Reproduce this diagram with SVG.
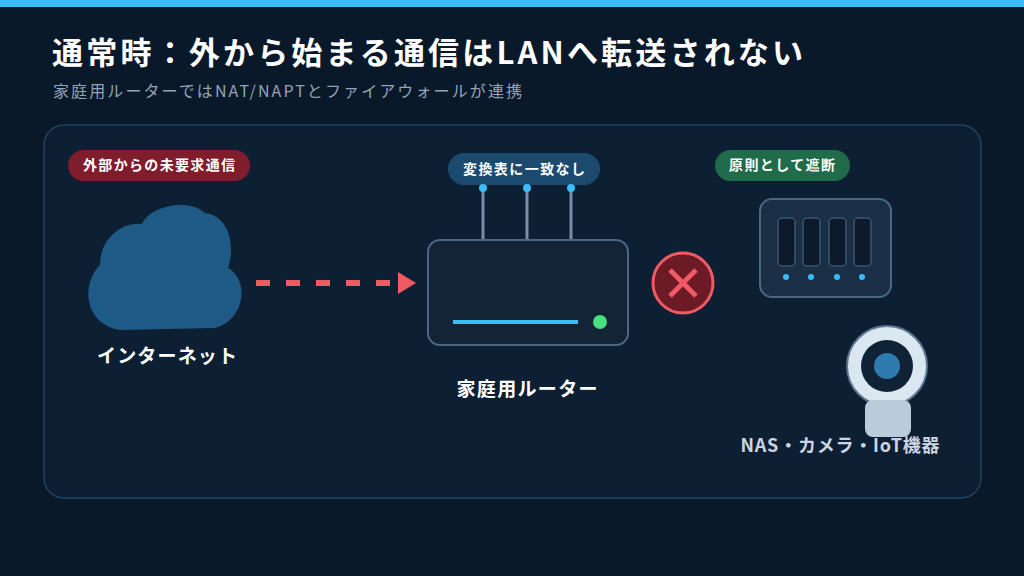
<svg xmlns="http://www.w3.org/2000/svg" width="1024" height="576" viewBox="0 0 1024 576">
<style>
text{font-family:"Noto Sans CJK JP","Noto Sans",sans-serif;font-weight:bold}
.pill{fill:#fff;font-size:14px;text-anchor:middle}
.lbl{fill:#fff;font-size:19px;text-anchor:middle}
.ant{stroke:#7a8fa5;stroke-width:3}
.dot{fill:#38bdf8}
.slot{fill:#0c1a2b;stroke:#3b5570;stroke-width:1.5}
</style>
<rect width="1024" height="576" fill="#0a1929"/>
<rect width="1024" height="7" fill="#38bdf8"/>
<text x="52" y="64" fill="#fff" font-size="31" textLength="751" lengthAdjust="spacing">通常時：外から始まる通信はLANへ転送されない</text>
<text x="53" y="97" fill="#94a3b8" font-size="16" style="font-weight:normal" textLength="469" lengthAdjust="spacing">家庭用ルーターではNAT/NAPTとファイアウォールが連携</text>
<rect x="44" y="125" width="937" height="373" rx="20" fill="#0d1f33" stroke="#23415c" stroke-width="1.5"/>
<g id="connectors">
<line x1="256" y1="283" x2="398" y2="283" stroke="#f05a64" stroke-width="6" stroke-dasharray="14 16"/>
<polygon points="398,272 416,283 398,294" fill="#f05a64"/>
</g>
<g id="internet">
<path d="M100,265 C100,240 120,222 142,224 C150,205 190,198 205,213 C228,215 236,245 228,268 C250,280 245,320 215,328 L120,330 C85,325 80,285 100,265 Z" fill="#1e5a85"/>
<rect x="68" y="150" width="182" height="31" rx="15.5" fill="#7f1d2d"/>
<text class="pill" x="159" y="170" textLength="152" lengthAdjust="spacing">外部からの未要求通信</text>
<text class="lbl" x="167" y="363" textLength="140" lengthAdjust="spacing">インターネット</text>
</g>
<g id="router">
<line class="ant" x1="483" y1="188" x2="483" y2="240"/>
<line class="ant" x1="527" y1="188" x2="527" y2="240"/>
<line class="ant" x1="571" y1="188" x2="571" y2="240"/>
<rect x="448" y="153" width="152" height="32" rx="16" fill="#1b4a6e"/>
<text class="pill" x="524" y="174" textLength="122" lengthAdjust="spacing">変換表に一致なし</text>
<circle class="dot" cx="483" cy="188" r="4"/><circle class="dot" cx="527" cy="188" r="4"/><circle class="dot" cx="571" cy="188" r="4"/>
<rect x="428" y="240" width="200" height="105" rx="12" fill="#132437" stroke="#4b6782" stroke-width="2"/>
<line x1="453" y1="322" x2="578" y2="322" stroke="#38bdf8" stroke-width="4"/>
<circle cx="600" cy="322" r="7" fill="#4ade80"/>
<text class="lbl" x="527" y="396" textLength="141" lengthAdjust="spacing">家庭用ルーター</text>
</g>
<g id="block">
<circle cx="683" cy="283" r="30" fill="#6b1a26" stroke="#f05a64" stroke-width="3"/>
<path d="M670,270 L696,296 M696,270 L670,296" stroke="#f05a64" stroke-width="5"/>
</g>
<g id="devices">
<rect x="715" y="150" width="135" height="31" rx="15.5" fill="#1f6b4a"/>
<text class="pill" x="782" y="170" textLength="106" lengthAdjust="spacing">原則として遮断</text>
<rect x="760" y="199" width="131" height="98" rx="12" fill="#1a2f45" stroke="#4b6782" stroke-width="2"/>
<rect class="slot" x="778" y="218" width="17" height="48" rx="4"/>
<rect class="slot" x="803" y="218" width="17" height="48" rx="4"/>
<rect class="slot" x="829" y="218" width="17" height="48" rx="4"/>
<rect class="slot" x="854" y="218" width="17" height="48" rx="4"/>
<circle class="dot" cx="786" cy="277" r="3"/><circle class="dot" cx="811" cy="277" r="3"/><circle class="dot" cx="837" cy="277" r="3"/><circle class="dot" cx="862" cy="277" r="3"/>
<circle cx="887" cy="366" r="40" fill="#dbe7f0" stroke="#5c7590" stroke-width="2"/>
<circle cx="887" cy="366" r="26" fill="#0f2236"/>
<circle cx="887" cy="366" r="13" fill="#2e7bb0"/>
<rect x="865" y="400" width="46" height="37" rx="8" fill="#b9ccd9"/>
<text x="840" y="452" fill="#cbd5e1" font-size="18" text-anchor="middle" textLength="199" lengthAdjust="spacing">NAS・カメラ・IoT機器</text>
</g>
</svg>
